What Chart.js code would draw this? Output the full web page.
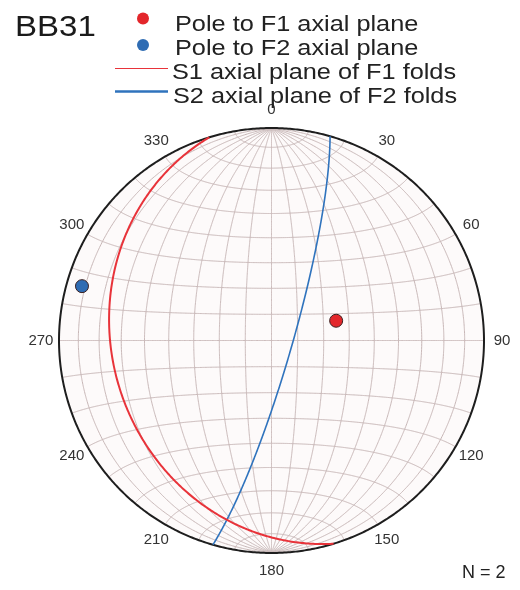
<!DOCTYPE html>
<html>
<head>
<meta charset="utf-8">
<script src="https://cdn.jsdelivr.net/npm/chart.js@4.4.1/dist/chart.umd.min.js"></script>
<style>
  html, body { margin: 0; padding: 0; background: #ffffff; overflow: hidden; }
  canvas { display: block; }
</style>
</head>
<body>
<canvas id="net" width="520" height="590"></canvas>
<script>
// Site label and sample count
const siteName = 'BB31';
const sampleLabel = 'N = 2';

// Poles to axial planes (trend / plunge, degrees)
const poleNames = ['Pole to F1 axial plane', 'Pole to F2 axial plane'];
const poleTrend = [73, 286];
const polePlunge = [64, 8];
const poleColors = ['#e3262b', '#2f6cb3'];

// Axial planes (dip direction / dip, degrees)
const planeNames = ['S1 axial plane of F1 folds', 'S2 axial plane of F2 folds'];
const planeDipDir = [253, 106];
const planeDip = [26, 82];
const planeColors = ['#e8333a', '#2f73bd'];
const planeWidths = [2, 1.6];

// Azimuth labels around the primitive
const azimuthTicks = [0, 30, 60, 90, 120, 150, 180, 210, 240, 270, 300, 330];

const D = Math.PI / 180;

// Lambert equal-area projection of a lower-hemisphere unit vector
// (east, north, down) onto the unit primitive circle.
function project(e, n, d) {
  const k = 1 / Math.sqrt(1 + d);
  return { x: e * k, y: n * k };
}

// Schmidt net: great circles striking N-S and small circles about the N-S axis
const gridSets = [];
for (let lam = -80; lam <= 80; lam += 10) {
  const pts = [];
  for (let phi = -90; phi <= 90; phi += 1) {
    pts.push(project(Math.sin(lam * D) * Math.cos(phi * D), Math.sin(phi * D), Math.cos(lam * D) * Math.cos(phi * D)));
  }
  gridSets.push(pts);
}
for (let phi = -80; phi <= 80; phi += 10) {
  const pts = [];
  for (let lam = -90; lam <= 90; lam += 1) {
    pts.push(project(Math.sin(lam * D) * Math.cos(phi * D), Math.sin(phi * D), Math.cos(lam * D) * Math.cos(phi * D)));
  }
  gridSets.push(pts);
}

// Primitive circle
const primitive = [];
for (let a = 0; a <= 360; a += 1) primitive.push({ x: Math.sin(a * D), y: Math.cos(a * D) });

// Great circle of a plane from its dip direction and dip
function greatCircle(dipDir, dip) {
  const s = [Math.sin((dipDir - 90) * D), Math.cos((dipDir - 90) * D), 0];
  const v = [Math.sin(dipDir * D) * Math.cos(dip * D), Math.cos(dipDir * D) * Math.cos(dip * D), Math.sin(dip * D)];
  const pts = [];
  for (let t = 0; t <= 180; t += 1) {
    const c = Math.cos(t * D), si = Math.sin(t * D);
    pts.push(project(c * s[0] + si * v[0], c * s[1] + si * v[1], Math.max(0, c * s[2] + si * v[2])));
  }
  return pts;
}

// Pole position from trend and plunge
function lineation(trend, plunge) {
  return project(Math.sin(trend * D) * Math.cos(plunge * D), Math.cos(trend * D) * Math.cos(plunge * D), Math.sin(plunge * D));
}

// Smooth curves: a small tension keeps Chart.js on its sub-pixel path
const CURVE = { showLine: true, pointRadius: 0, tension: 0.01, clip: false };

const datasets = [];
poleNames.forEach((name, i) => {
  datasets.push({
    label: name,
    data: [lineation(poleTrend[i], polePlunge[i])],
    showLine: false,
    pointRadius: 6.5,
    pointBackgroundColor: poleColors[i],
    pointBorderColor: '#3b2020',
    pointBorderWidth: 1,
    clip: false,
    order: 0
  });
});
planeNames.forEach((name, i) => {
  datasets.push(Object.assign({}, CURVE, {
    label: name,
    data: greatCircle(planeDipDir[i], planeDip[i]),
    borderColor: planeColors[i],
    borderWidth: planeWidths[i],
    order: 1
  }));
});
datasets.push(Object.assign({}, CURVE, {
  label: 'primitive',
  data: primitive,
  borderColor: '#1e1e1e',
  borderWidth: 2,
  order: 2
}));
gridSets.forEach(pts => {
  datasets.push(Object.assign({}, CURVE, {
    label: 'grid',
    data: pts,
    borderColor: '#c7b6b6',
    borderWidth: 1,
    order: 3
  }));
});

const FONT = 'Arial, "Liberation Sans", Helvetica, sans-serif';

// Draws wide-set header text
function wideText(ctx, text, x, y, stretch) {
  ctx.save();
  ctx.translate(x, y);
  ctx.scale(stretch, 1);
  ctx.fillText(text, 0, 0);
  ctx.restore();
}

const netDecor = {
  id: 'netDecor',
  beforeDatasetsDraw(chart) {
    const { ctx, scales: { x, y } } = chart;
    const cx = x.getPixelForValue(0), cy = y.getPixelForValue(0);
    const r = x.getPixelForValue(1) - cx;
    ctx.save();
    ctx.beginPath();
    ctx.arc(cx, cy, r, 0, Math.PI * 2);
    ctx.fillStyle = '#fdfafa';
    ctx.fill();
    ctx.restore();
  },
  afterDraw(chart) {
    const { ctx, scales: { x, y } } = chart;
    ctx.save();
    // azimuth labels
    ctx.fillStyle = '#333333';
    ctx.font = '15px ' + FONT;
    ctx.textAlign = 'center';
    ctx.textBaseline = 'middle';
    const L = 1.085;
    azimuthTicks.forEach(a => {
      ctx.fillText(String(a), x.getPixelForValue(L * Math.sin(a * D)), y.getPixelForValue(L * Math.cos(a * D)));
    });

    // site name
    ctx.textAlign = 'left';
    ctx.textBaseline = 'alphabetic';
    ctx.fillStyle = '#1a1a1a';
    ctx.font = '29px ' + FONT;
    wideText(ctx, siteName, 15, 36, 1.14);

    // legend markers
    const dotY = [18.5, 45];
    poleNames.forEach((name, i) => {
      ctx.beginPath();
      ctx.arc(143, dotY[i], 6, 0, Math.PI * 2);
      ctx.fillStyle = poleColors[i];
      ctx.fill();
    });
    const lineY = [68.5, 91.5];
    planeNames.forEach((name, i) => {
      ctx.beginPath();
      ctx.moveTo(115, lineY[i]);
      ctx.lineTo(168, lineY[i]);
      ctx.strokeStyle = planeColors[i];
      ctx.lineWidth = i === 0 ? 1.2 : 2.4;
      ctx.stroke();
    });

    // legend text
    ctx.font = '22px ' + FONT;
    ctx.fillStyle = '#222222';
    wideText(ctx, poleNames[0], 175, 31, 1.15);
    wideText(ctx, poleNames[1], 175, 55, 1.15);
    wideText(ctx, planeNames[0], 172, 78.5, 1.15);
    wideText(ctx, planeNames[1], 173, 103, 1.15);

    // sample count
    ctx.font = '18px ' + FONT;
    ctx.fillStyle = '#222222';
    ctx.fillText(sampleLabel, 462, 578);
    ctx.restore();
  }
};

new Chart(document.getElementById('net'), {
  type: 'scatter',
  data: { datasets },
  options: {
    responsive: false,
    animation: false,
    events: [],
    layout: { padding: { left: 59, right: 36, top: 128, bottom: 37 } },
    scales: {
      x: { type: 'linear', min: -1, max: 1, display: false },
      y: { type: 'linear', min: -1, max: 1, display: false }
    },
    elements: { line: { fill: false } },
    plugins: { legend: { display: false }, tooltip: { enabled: false }, title: { display: false } }
  },
  plugins: [netDecor]
});
</script>
</body>
</html>
